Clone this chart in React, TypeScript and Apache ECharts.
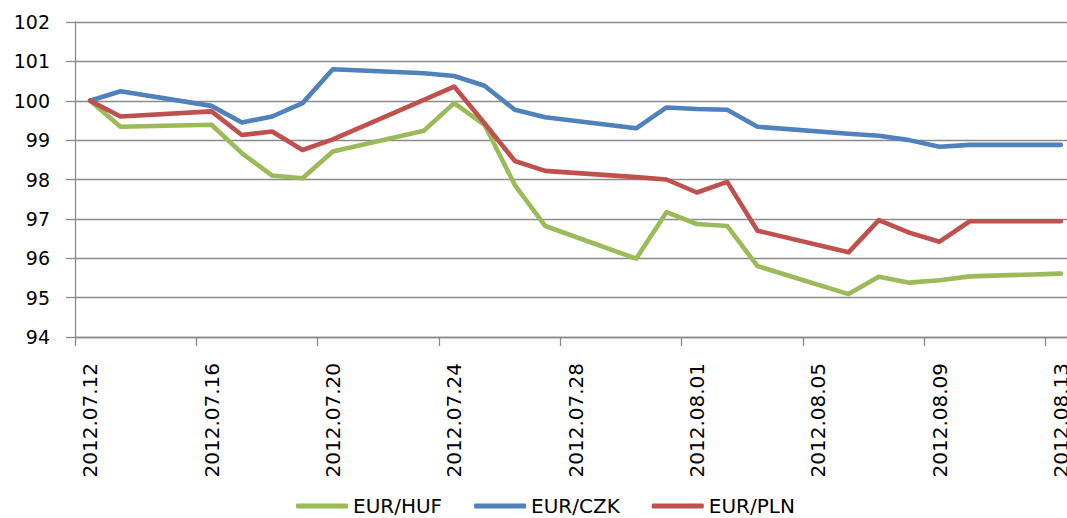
import React, { useEffect, useRef } from "react";
import * as echarts from "echarts";

const dates: string[] = [
  "2012.07.12", "2012.07.13", "2012.07.14", "2012.07.15", "2012.07.16", "2012.07.17",
  "2012.07.18", "2012.07.19", "2012.07.20", "2012.07.21", "2012.07.22", "2012.07.23",
  "2012.07.24", "2012.07.25", "2012.07.26", "2012.07.27", "2012.07.28", "2012.07.29",
  "2012.07.30", "2012.07.31", "2012.08.01", "2012.08.02", "2012.08.03", "2012.08.04",
  "2012.08.05", "2012.08.06", "2012.08.07", "2012.08.08", "2012.08.09", "2012.08.10",
  "2012.08.11", "2012.08.12", "2012.08.13",
];

const eurHuf: (number | null)[] = [
  100, 99.34, null, null, 99.39, 98.67, 98.1, 98.03, 98.71, null, null, 99.24,
  99.94, 99.39, 97.86, 96.82, null, null, 95.99, 97.17, 96.87, 96.82, 95.8, null,
  null, 95.09, 95.53, 95.38, 95.44, 95.54, null, null, 95.61,
];

const eurCzk: (number | null)[] = [
  100, 100.24, null, null, 99.87, 99.45, 99.6, 99.94, 100.8, null, null, 100.7,
  100.63, 100.38, 99.77, 99.58, null, null, 99.3, 99.83, 99.79, 99.77, 99.34, null,
  null, 99.16, 99.11, 99.0, 98.83, 98.88, null, null, 98.88,
];

const eurPln: (number | null)[] = [
  100, 99.6, null, null, 99.73, 99.13, 99.22, 98.75, 99.02, null, null, 100.02,
  100.36, 99.43, 98.47, 98.22, null, null, 98.06, 98.0, 97.67, 97.94, 96.7, null,
  null, 96.15, 96.97, 96.65, 96.42, 96.94, null, null, 96.94,
];

const FONT = "DejaVu Sans";
const GRID_COLOR = "#8a8a8a";

export default function App() {
  const ref = useRef<HTMLDivElement>(null);

  useEffect(() => {
    if (!ref.current) return;
    const chart = echarts.init(ref.current, undefined, { renderer: "svg" });
    const mkSeries = (name: string, data: (number | null)[], color: string) => ({
      name,
      type: "line",
      data,
      connectNulls: true,
      symbol: "none",
      color,
      lineStyle: { width: 4.6, color, join: "round", cap: "round" },
    });
    chart.setOption({
      animation: false,
      backgroundColor: "#ffffff",
      grid: {
        left: 75,
        top: 22,
        right: -9,
        bottom: 181,
        containLabel: false,
        outerBoundsMode: "none",
      },
      legend: {
        left: 291,
        top: 491,
        icon: "roundRect",
        itemWidth: 52,
        itemHeight: 5,
        itemGap: 32,
        textStyle: { fontFamily: FONT, fontSize: 20, color: "#000" },
        data: ["EUR/HUF", "EUR/CZK", "EUR/PLN"],
      },
      xAxis: {
        type: "category",
        data: dates,
        boundaryGap: true,
        axisLine: { show: true, lineStyle: { color: GRID_COLOR, width: 1.3 } },
        axisTick: {
          show: true,
          interval: 3,
          alignWithLabel: false,
          length: 9,
          lineStyle: { color: GRID_COLOR, width: 1.3 },
        },
        axisLabel: {
          interval: 3,
          rotate: 90,
          margin: 26,
          fontFamily: FONT,
          fontSize: 20,
          color: "#000",
          hideOverlap: false,
        },
        splitLine: { show: false },
      },
      yAxis: {
        type: "value",
        min: 94,
        max: 102,
        interval: 1,
        axisLine: { show: true, lineStyle: { color: GRID_COLOR, width: 1.3 } },
        axisTick: { show: true, length: 9, lineStyle: { color: GRID_COLOR, width: 1.3 } },
        axisLabel: { margin: 25, fontFamily: FONT, fontSize: 19, color: "#000" },
        splitLine: { show: true, lineStyle: { color: GRID_COLOR, width: 1.3 } },
      },
      series: [
        mkSeries("EUR/HUF", eurHuf, "#9BBB59"),
        mkSeries("EUR/CZK", eurCzk, "#4F81BD"),
        mkSeries("EUR/PLN", eurPln, "#C0504D"),
      ],
    });
    return () => chart.dispose();
  }, []);

  return (
    <div
      ref={ref}
      style={{ position: "fixed", left: 0, top: 0, width: 1067, height: 518, background: "#fff" }}
    />
  );
}
